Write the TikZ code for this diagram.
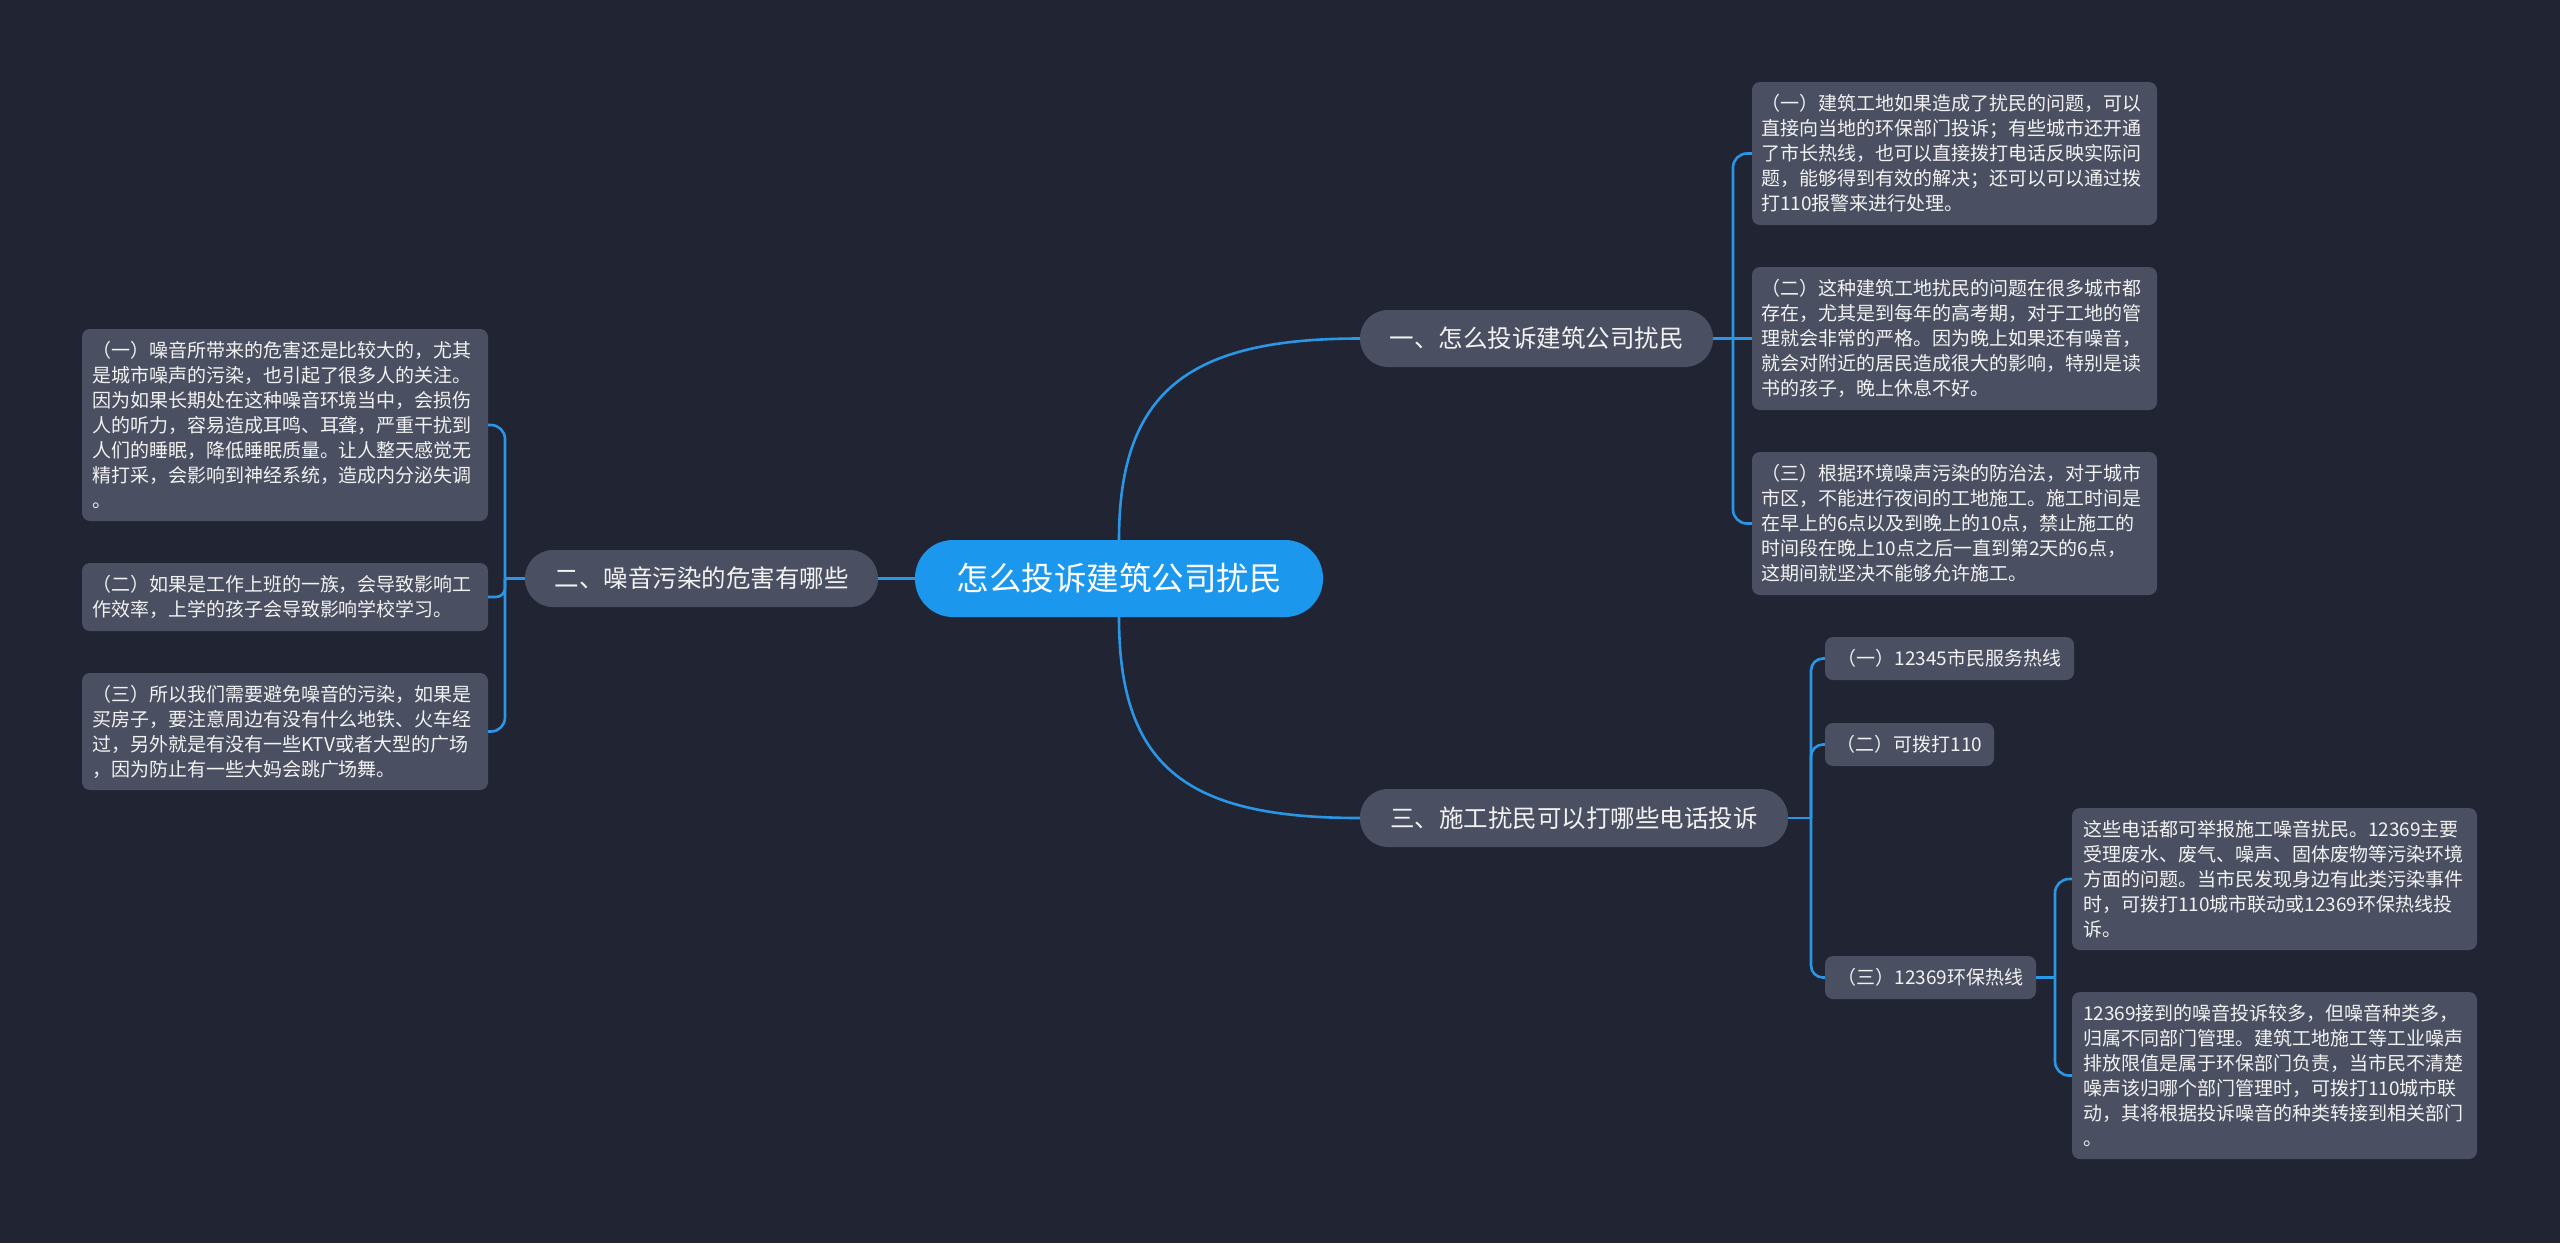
\documentclass[tikz,border=0pt]{standalone}
\usepackage{fontspec}
\setmainfont{Noto Sans CJK SC}
\definecolor{bgc}{HTML}{212533}
\definecolor{boxc}{HTML}{4A5061}
\definecolor{rootc}{HTML}{1B97EE}
\definecolor{linec}{HTML}{2A96E6}
\definecolor{txtc}{HTML}{F2F2F2}
\tikzset{
  leaf/.style={rounded corners=8pt, fill=boxc, text=txtc, font=\fontsize{19}{25}\selectfont, align=left, inner xsep=0pt, inner ysep=0pt},
  small/.style={rounded corners=8pt, fill=boxc, text=txtc, font=\fontsize{19}{25}\selectfont, inner sep=0pt},
  branch/.style={rounded corners=28pt, fill=boxc, text=txtc, font=\fontsize{24.5}{30}\selectfont, inner sep=0pt, minimum height=57pt},
  rootbox/.style={rounded corners=38pt, fill=rootc, text=white, font=\fontsize{32.5}{40}\selectfont, inner sep=0pt, minimum height=77pt},
  conn/.style={draw=linec, line width=2.6pt},
}
\begin{document}
\begin{tikzpicture}[x=1pt,y=-1pt]
\fill[bgc] (0,0) rectangle (2560,1243);
\useasboundingbox (0,0) rectangle (2560,1243);

% root and branches
\node[rootbox, minimum width=408pt] (root) at (1119,578.5) {怎么投诉建筑公司扰民};
\node[branch, minimum width=353pt] (b1) at (1536.5,338.5) {一、怎么投诉建筑公司扰民};
\node[branch, minimum width=353pt] (b2) at (701.5,578.5) {二、噪音污染的危害有哪些};
\node[branch, minimum width=428pt, minimum height=58pt] (b3) at (1574,818) {三、施工扰民可以打哪些电话投诉};

% right-top leaves
\node[leaf, text width=387pt, minimum width=405pt, minimum height=143pt] (r1) at (1954.5,153.5) {（一）建筑工地如果造成了扰民的问题，可以\\直接向当地的环保部门投诉；有些城市还开通\\了市长热线，也可以直接拨打电话反映实际问\\题，能够得到有效的解决；还可以可以通过拨\\打110报警来进行处理。};
\node[leaf, text width=387pt, minimum width=405pt, minimum height=143pt] (r2) at (1954.5,338.5) {（二）这种建筑工地扰民的问题在很多城市都\\存在，尤其是到每年的高考期，对于工地的管\\理就会非常的严格。因为晚上如果还有噪音，\\就会对附近的居民造成很大的影响，特别是读\\书的孩子，晚上休息不好。};
\node[leaf, text width=387pt, minimum width=405pt, minimum height=143pt] (r3) at (1954.5,523.5) {（三）根据环境噪声污染的防治法，对于城市\\市区，不能进行夜间的工地施工。施工时间是\\在早上的6点以及到晚上的10点，禁止施工的\\时间段在晚上10点之后一直到第2天的6点，\\这期间就坚决不能够允许施工。};

% left leaves
\node[leaf, text width=386pt, minimum width=406pt, minimum height=192pt] (l1) at (285,425) {（一）噪音所带来的危害还是比较大的，尤其\\是城市噪声的污染，也引起了很多人的关注。\\因为如果长期处在这种噪音环境当中，会损伤\\人的听力，容易造成耳鸣、耳聋，严重干扰到\\人们的睡眠，降低睡眠质量。让人整天感觉无\\精打采，会影响到神经系统，造成内分泌失调\\。};
\node[leaf, text width=386pt, minimum width=406pt, minimum height=68pt] (l2) at (285,597) {（二）如果是工作上班的一族，会导致影响工\\作效率，上学的孩子会导致影响学校学习。};
\node[leaf, text width=386pt, minimum width=406pt, minimum height=117pt] (l3) at (285,731.5) {（三）所以我们需要避免噪音的污染，如果是\\买房子，要注意周边有没有什么地铁、火车经\\过，另外就是有没有一些KTV或者大型的广场\\，因为防止有一些大妈会跳广场舞。};

% branch 3 children
\node[small, minimum width=249pt, minimum height=43pt] (s1) at (1949.5,658.5) {（一）12345市民服务热线};
\node[small, minimum width=169pt, minimum height=43pt] (s2) at (1909.5,744.5) {（二）可拨打110};
\node[small, minimum width=211pt, minimum height=43pt] (s3) at (1930.5,977.5) {（三）12369环保热线};

% far-right leaves
\node[leaf, text width=383pt, minimum width=405pt, minimum height=142pt] (f1) at (2274.5,879) {这些电话都可举报施工噪音扰民。12369主要\\受理废水、废气、噪声、固体废物等污染环境\\方面的问题。当市民发现身边有此类污染事件\\时，可拨打110城市联动或12369环保热线投\\诉。};
\node[leaf, text width=383pt, minimum width=405pt, minimum height=167pt] (f2) at (2274.5,1075.5) {12369接到的噪音投诉较多，但噪音种类多，\\归属不同部门管理。建筑工地施工等工业噪声\\排放限值是属于环保部门负责，当市民不清楚\\噪声该归哪个部门管理时，可拨打110城市联\\动，其将根据投诉噪音的种类转接到相关部门\\。};

% junctions
\coordinate (j1) at (1733,338.5);
\coordinate (j2) at (505,578.5);
\coordinate (j3) at (1811,818);
\coordinate (j4) at (2055,977.5);

% root connectors
\draw[conn] (root.north) .. controls (1119,390) and (1190,338.5) .. (b1.west);
\draw[conn] (root.south) .. controls (1119,770) and (1190,818) .. (b3.west);
\draw[conn] (root.west) -- (b2.east);

% branch 1
\draw[conn] (b1.east) -- (j1);
\draw[conn, rounded corners=14pt] (j1) |- (r1.west);
\draw[conn] (j1) -- (r2.west);
\draw[conn, rounded corners=14pt] (j1) |- (r3.west);

% branch 2
\draw[conn] (b2.west) -- (j2);
\draw[conn, rounded corners=14pt] (j2) |- (l1.east);
\draw[conn, rounded corners=9pt] (j2) |- (l2.east);
\draw[conn, rounded corners=14pt] (j2) |- (l3.east);

% branch 3
\draw[conn] (b3.east) -- (j3);
\draw[conn, rounded corners=12pt] (j3) |- (s1.west);
\draw[conn, rounded corners=12pt] (j3) |- (s2.west);
\draw[conn, rounded corners=12pt] (j3) |- (s3.west);

% s3 children
\draw[conn] (s3.east) -- (j4);
\draw[conn, rounded corners=14pt] (j4) |- (f1.west);
\draw[conn, rounded corners=14pt] (j4) |- (f2.west);
\end{tikzpicture}
\end{document}
